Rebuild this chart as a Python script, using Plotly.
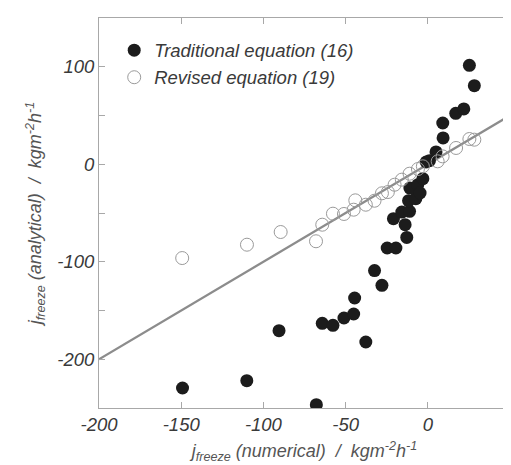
import plotly.graph_objects as go

# Traditional equation (16) — filled circles
trad_x = [-149.2, -110.1, -67.8, -90.5, -64.2, -57.7, -51.0, -45.1, -44.5, -37.7,
          -32.4, -27.9, -24.7, -19.4, -20.9, -15.8, -11.1, -13.8, -12.8, -11.7,
          -7.3, -10.9, -6.1, -4.7, -3.0, -1.0, 1.0, 5.0, 9.3, 9.1,
          17.0, 21.9, 25.3, 28.3]
trad_y = [-229.5, -222.0, -246.6, -170.7, -163.2, -165.2, -157.7, -153.6, -137.2, -182.3,
          -109.1, -124.2, -85.9, -85.9, -55.8, -49.0, -48.3, -62.0, -75.0, -37.4,
          -35.3, -24.4, -21.0, -29.5, -14.8, 2.3, 3.7, 12.6, 27.0, 42.3,
          52.2, 56.7, 101.5, 80.6]

# Revised equation (19) — open circles
rev_x = [-149.4, -110.0, -89.5, -68.0, -64.2, -57.7, -51.0, -45.1, -44.1, -37.7,
         -32.4, -27.9, -24.3, -20.2, -15.8, -11.1, -6.0, -3.0, 6.0, 9.0,
         17.2, 25.3, 28.3]
rev_y = [-96.2, -82.5, -69.5, -79.0, -62.0, -50.7, -51.0, -46.6, -37.0, -41.5,
         -37.4, -29.8, -28.5, -21.0, -15.8, -9.7, -4.9, -2.1, 3.0, 8.1,
         16.7, 25.9, 25.2]

# 1:1 reference line
line_x = [-200, 50]
line_y = [-200, 50]

x_ticks = [-200, -150, -100, -50, 0, 50]
x_ticktext = ["-200", "-150", "-100", "-50", "0", "50"]
y_ticks = [-200, -150, -100, -50, 0, 50, 100]
y_ticktext = ["-200", "", "-100", "", "0", "", "100"]

FONT = "Liberation Sans, Arial, sans-serif"

fig = go.Figure()
fig.add_trace(go.Scatter(x=line_x, y=line_y, mode="lines",
                         line=dict(color="#8c8c8c", width=2.2),
                         showlegend=False, hoverinfo="skip"))
fig.add_trace(go.Scatter(x=trad_x, y=trad_y, mode="markers",
                         name="Traditional equation (16)",
                         marker=dict(symbol="circle", size=13, color="#1c1c1c",
                                     line=dict(width=0))))
fig.add_trace(go.Scatter(x=rev_x, y=rev_y, mode="markers",
                         name="Revised equation (19)",
                         marker=dict(symbol="circle-open", size=13, color="#9a9a9a",
                                     line=dict(width=1))))

axis_common = dict(
    showgrid=False, zeroline=False, showline=True, linecolor="#a8a8a8", linewidth=1,
    mirror="ticks", ticks="inside", ticklen=6, tickcolor="#a8a8a8", tickwidth=1,
    tickfont=dict(family=FONT, size=18.5, color="#3a3a3a", style="italic"),
)

fig.update_xaxes(range=[-200, 50], tickvals=x_ticks, ticktext=x_ticktext, **axis_common,
                 title=dict(text="<i>j</i><sub>freeze</sub> (numerical)  /  kgm<sup>-2</sup>h<sup>-1</sup>",
                            font=dict(family=FONT, size=18, color="#555555", style="italic"),
                            standoff=10))
fig.update_yaxes(range=[-250, 150], tickvals=y_ticks, ticktext=y_ticktext, **axis_common,
                 title=dict(text="<i>j</i><sub>freeze</sub> (analytical)  /  kgm<sup>-2</sup>h<sup>-1</sup>",
                            font=dict(family=FONT, size=18, color="#555555", style="italic"),
                            standoff=10))

fig.update_layout(
    width=511, height=465,
    margin=dict(l=91, r=9, t=10, b=65),
    paper_bgcolor="white", plot_bgcolor="white",
    legend=dict(x=0.037, y=0.965, xanchor="left", yanchor="top",
                bgcolor="rgba(0,0,0,0)", tracegroupgap=0,
                font=dict(family=FONT, size=18.5, color="#3a3a3a", style="italic")),
)

fig.write_html("out.html")
